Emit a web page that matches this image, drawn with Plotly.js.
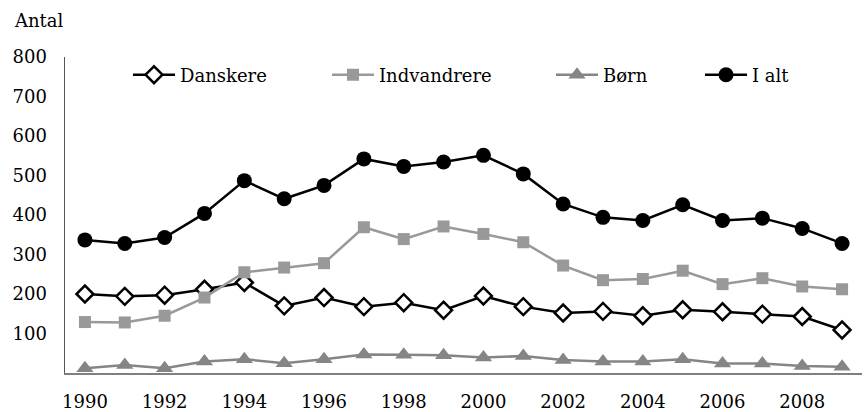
<!DOCTYPE html>
<html>
<head>
<meta charset="utf-8">
<script src="https://cdn.plot.ly/plotly-3.0.1.min.js"></script>
<style>html,body{margin:0;padding:0;background:#fff;}#chart{width:865px;height:412px;}</style>
</head>
<body>
<div id="chart"></div>
<script>
const years = [1990,1991,1992,1993,1994,1995,1996,1997,1998,1999,2000,2001,2002,2003,2004,2005,2006,2007,2008,2009];
const danskere = [200,194,197,212,229,170,191,168,178,159,195,168,152,156,145,160,155,149,143,109];
const indvandrere = [129,128,145,191,255,267,278,369,339,371,352,331,272,235,238,259,225,240,219,212];
const boern = [12,20,12,29,35,25,35,47,46,45,39,43,33,29,29,35,24,24,18,16];
const ialt = [337,328,343,404,487,441,475,542,523,534,551,504,428,394,386,426,386,392,366,328];
const yTicks = [100,200,300,400,500,600,700,800];
const xTicks = [1990,1992,1994,1996,1998,2000,2002,2004,2006,2008];

const FONT = 'DejaVu Serif, serif';
const FS = 18;
const traces = [
  {x: years, y: danskere, name: 'Danskere', type: 'scatter', mode: 'lines+markers', legend: 'legend',
   line: {color: '#000', width: 2.5}, marker: {symbol: 'diamond', size: 13, color: '#fff', line: {color: '#000', width: 2.5}}},
  {x: years, y: indvandrere, name: 'Indvandrere', type: 'scatter', mode: 'lines+markers', legend: 'legend2',
   line: {color: '#999999', width: 2.5}, marker: {symbol: 'square', size: 12, color: '#999999'}},
  {x: years, y: boern, name: 'Børn', type: 'scatter', mode: 'lines+markers', legend: 'legend3',
   line: {color: '#858585', width: 2.5}, marker: {symbol: 'triangle-up', size: 15, color: '#858585'}},
  {x: years, y: ialt, name: 'I alt', type: 'scatter', mode: 'lines+markers', legend: 'legend4',
   line: {color: '#000', width: 2.5}, marker: {symbol: 'circle', size: 15, color: '#000'}}
];
const L = 65, W = 797, T = 57, H = 316;
function px(x){ return (x - L) / W; }
const legY = (373 - 75) / H;
function leg(x){ return {x: px(x), y: legY, xanchor: 'left', yanchor: 'middle', itemwidth: 42, bgcolor: 'rgba(0,0,0,0)', font: {family: FONT, size: FS, color: '#000'}}; }
const layout = {
  width: 865, height: 412,
  margin: {l: L, r: 865 - L - W, t: T, b: 412 - T - H},
  paper_bgcolor: '#fff', plot_bgcolor: '#fff',
  font: {family: FONT, size: FS, color: '#000'},
  showlegend: true,
  legend: leg(128), legend2: leg(327), legend3: leg(551), legend4: leg(700),
  xaxis: {type: 'linear', range: [1989.5, 2009.5], tickvals: xTicks, ticktext: xTicks.map(String),
    showgrid: false, zeroline: false, showline: true, linecolor: '#7f7f7f', linewidth: 1.5,
    ticks: '', ticklabelstandoff: 12, tickfont: {family: FONT, size: FS}},
  yaxis: {range: [0, 800], tickvals: yTicks, ticktext: yTicks.map(String),
    showgrid: false, zeroline: false, showline: true, linecolor: '#555', linewidth: 1.5,
    ticks: '', ticklabelstandoff: 13, tickfont: {family: FONT, size: FS}},
  annotations: [{text: 'Antal', xref: 'paper', yref: 'paper', x: px(12), y: (373 - 20) / H,
    xanchor: 'left', yanchor: 'middle', showarrow: false, font: {family: FONT, size: FS, color: '#000'}}]
};
Plotly.newPlot('chart', traces, layout, {displayModeBar: false, staticPlot: true});
</script>
</body>
</html>
